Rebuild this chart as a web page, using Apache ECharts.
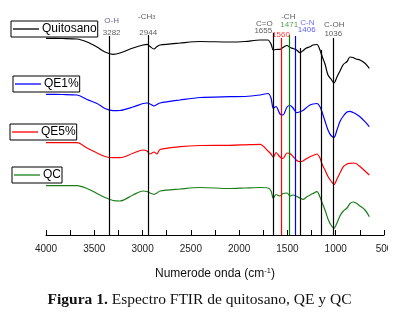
<!DOCTYPE html>
<html>
<head>
<meta charset="utf-8">
<script src="https://cdn.jsdelivr.net/npm/echarts@6/dist/echarts.min.js"></script>
<style>
html,body{margin:0;padding:0;background:#fff;}
#wrap{width:401px;height:316px;overflow:hidden;background:#fff;}
#chart{width:388px;height:316px;}
</style>
</head>
<body>
<div id="wrap"><div id="chart"></div></div>
<script>
// Wavenumber grid (cm-1)
const wavenumbers = [4000, 3834, 3679, 3575, 3472, 3389, 3306, 3234, 3099, 2996, 2954, 2923, 2882, 2851, 2820, 2612, 2405, 2095, 1939, 1784, 1701, 1670, 1646, 1618, 1577, 1546, 1504, 1473, 1442, 1404, 1370, 1339, 1308, 1266, 1235, 1194, 1163, 1142, 1111, 1080, 1049, 1018, 987, 956, 921, 883, 852, 821, 790, 749, 697, 652];
// Offset transmittance (arbitrary units)
const quitosano = [196.7, 196.5, 196, 193, 188, 183, 180.7, 182, 187, 190, 190.7, 188.5, 186, 188.5, 190, 192, 193.5, 193, 193.5, 195, 195, 191, 185, 185.5, 185.7, 187.5, 189.5, 187.5, 186.5, 185, 182.3, 184.3, 186.7, 188.3, 190, 190.5, 185, 179, 171, 160, 156, 152, 158, 164, 170.5, 173.5, 178, 177.5, 176, 175, 171.7, 166.7];
const qe1 = [140.7, 140.5, 140, 135.5, 131.5, 126.5, 124.3, 124.5, 128, 131.5, 132, 131, 129, 130.5, 132, 135, 137.5, 138.3, 138.5, 140, 141.5, 137, 126.7, 128.5, 121, 120, 128, 129.5, 127, 122.3, 123.3, 124.5, 127, 130, 131, 131.5, 128.3, 123, 114, 105, 99.5, 97.7, 105, 113.5, 119, 123, 123.7, 122.5, 121, 118.3, 113.3, 108.3];
const qe5 = [92.3, 92.3, 92.3, 87, 82, 78.5, 77.3, 77.3, 81.7, 85, 84, 81, 83, 81, 85.5, 88.3, 89.5, 89.7, 90.2, 90.7, 84, 81, 77.7, 82.5, 78, 76.5, 82, 81.5, 78.5, 74.5, 73.3, 74, 76, 78.3, 79.5, 81, 77, 71, 65, 58.5, 54, 50.5, 56, 62, 68.3, 71, 71.7, 72, 71.5, 68.5, 64, 60];
const qc = [49.3, 49.3, 49.3, 46.5, 41.5, 37.5, 34.5, 34, 40, 44, 43.5, 42, 40.7, 42, 44, 46, 47.5, 46.5, 47, 47.5, 47, 44, 36.7, 40.5, 39, 41.5, 42, 39, 40, 38.5, 37, 35.7, 37.5, 40, 41.5, 43.3, 38, 32.5, 25, 16, 10, 6.7, 12, 19, 24, 27, 31.5, 33, 32, 29, 25, 18.3];
const seriesNames = ['Quitosano', 'QE1%', 'QE5%', 'QC'];
const xTickLabels = [500, 1000, 1500, 2000, 2500, 3000, 3500, 4000];

// Band marker lines
const markerWn = [3350, 2944, 1646, 1563, 1481, 1414, 1367, 1149, 1025];
const markerTop = [199, 200, 202, 197, 200, 199, 187, 185, 197];
const markerColor = ['#000', '#000', '#000', '#ff0000', '#008000', '#0000ff', '#000', '#000', '#000'];

// Band annotations
const annotText = ['O-H', '3282', '-CH{sub|3}', '2944', 'C=O', '1655', '1560', '-CH', '1471', 'C-N', '1406', 'C-OH', '1036'];
const annotWn = [3320, 3320, 2957, 2941, 1739, 1750, 1567, 1491, 1481, 1294, 1300, 1015, 1025];
const annotVal = [214.3, 202.7, 218.3, 202.7, 211, 204.3, 200, 218.3, 210, 212.3, 205, 210, 201];
const annotColor = ['#3b3b7d', '#333', '#333', '#333', '#333', '#333', '#ff0000', '#333', '#2a8a2a', '#4a4aff', '#3333ff', '#333', '#333'];

const FONT = 'Liberation Sans, Arial, sans-serif';
const allValues = [quitosano, qe1, qe5, qc];
const colors = ['#000000', '#0000ff', '#ff0000', '#1a7f1a'];

const curveSeries = seriesNames.map((n, i) => ({
  name: n,
  type: 'line',
  data: wavenumbers.map((w, j) => [w, allValues[i][j]]),
  smooth: 0.3,
  symbol: 'none',
  showSymbol: false,
  lineStyle: { color: colors[i], width: 1.2 },
  itemStyle: { color: colors[i] },
  z: 3
}));

const markerSeries = {
  name: 'markers',
  type: 'line',
  data: [],
  symbol: 'none',
  silent: true,
  markLine: {
    silent: true,
    symbol: 'none',
    animation: false,
    label: { show: false },
    data: markerWn.map((w, i) => [
      { coord: [w, markerTop[i]], lineStyle: { color: markerColor[i], width: 1.2, type: 'solid' } },
      { coord: [w, 0] }
    ])
  },
  z: 4
};

const annotSeries = {
  name: 'annotations',
  type: 'scatter',
  symbolSize: 0,
  silent: true,
  data: annotText.map((t, i) => ({
    value: [annotWn[i], annotVal[i]],
    label: { color: annotColor[i] },
    name: t
  })),
  label: {
    show: true,
    position: 'inside',
    formatter: p => p.name,
    fontFamily: FONT,
    fontSize: 8,
    rich: { sub: { fontSize: 5.5, verticalAlign: 'bottom', fontFamily: FONT, color: '#333' } }
  },
  z: 5
};

const legendPos = [[11, 21], [13, 76], [10, 124], [12, 167]];
const legends = seriesNames.map((n, i) => ({
  data: [n],
  left: legendPos[i][0],
  top: legendPos[i][1],
  orient: 'horizontal',
  icon: 'rect',
  borderColor: '#000',
  borderWidth: 1,
  borderRadius: 0,
  padding: [1, 1, 1, 2],
  itemWidth: 26,
  itemHeight: 1.3,
  selectedMode: false,
  textStyle: { fontFamily: FONT, fontSize: 12, color: '#000', lineHeight: 13, padding: [1, 0, 0, -2] }
}));

const chart = echarts.init(document.getElementById('chart'), null, { renderer: 'canvas' });
chart.setOption({
  animation: false,
  backgroundColor: '#fff',
  legend: legends,
  grid: { left: 46, right: 4, top: 0, bottom: 81, containLabel: false, outerBoundsMode: 'none' },
  xAxis: {
    type: 'value',
    min: 500,
    max: 4000,
    interval: 500,
    inverse: true,
    name: 'Numerode onda (cm{sup|-1})',
    nameLocation: 'middle',
    nameGap: 32,
    nameTextStyle: {
      fontFamily: FONT, fontSize: 12, color: '#111',
      rich: { sup: { fontSize: 7.5, verticalAlign: 'top', fontFamily: FONT, color: '#111', padding: [0, 0, 5, 0] } }
    },
    axisLine: { show: true, onZero: false, lineStyle: { color: '#000', width: 1 } },
    axisTick: { show: true, inside: true, length: 5, lineStyle: { color: '#000', width: 1 } },
    minorTick: { show: true, splitNumber: 2, length: 5, lineStyle: { color: '#000', width: 1 } },
    splitLine: { show: false },
    axisLabel: {
      margin: 9, fontFamily: FONT, fontSize: 10, color: '#222',
      formatter: v => (xTickLabels.indexOf(v) >= 0 ? String(v) : '')
    }
  },
  yAxis: { type: 'value', min: 0, max: 235, show: false },
  graphic: [{
    type: 'text',
    style: {
      x: 199.5, y: 300,
      text: '{b|Figura 1.} Espectro FTIR de quitosano, QE y QC',
      align: 'center', verticalAlign: 'middle',
      fontFamily: 'Liberation Serif, Times New Roman, serif', fontSize: 15.5, fill: '#111',
      rich: { b: { fontFamily: 'Liberation Serif, Times New Roman, serif', fontSize: 15.5, fontWeight: 'bold', fill: '#111' } }
    }
  }],
  series: [markerSeries].concat(curveSeries, [annotSeries])
});
</script>
</body>
</html>
